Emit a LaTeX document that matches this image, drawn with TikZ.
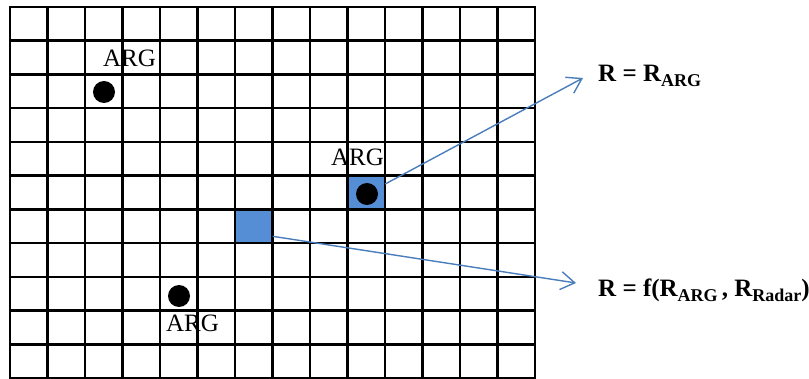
\documentclass[tikz,border=0pt]{standalone}
\usepackage{fontspec}
\setmainfont{Liberation Serif}
\usetikzlibrary{arrows.meta}
\definecolor{cellblue}{RGB}{85,142,213}
\definecolor{arrowblue}{RGB}{74,126,187}
\newcommand{\subtxt}[1]{\raisebox{-4.5pt}{\fontsize{18}{20}\selectfont #1}}
\tikzset{
  gridline/.style={line width=2.6pt, black, line cap=rect},
  bluecell/.style={fill=cellblue, draw=none, minimum width=37.5pt, minimum height=33.7pt, inner sep=0pt},
  blackdot/.style={circle, fill=black, minimum size=22pt, inner sep=0pt},
  arglabel/.style={font=\fontsize{25}{30}\selectfont, inner sep=0pt, anchor=base},
  formula/.style={font=\bfseries\fontsize{25}{30}\selectfont, inner sep=0pt, anchor=base west},
  link/.style={draw=arrowblue, line width=1.4pt, -{Straight Barb[length=14pt,width=18pt]}}
}
\begin{document}
\begin{tikzpicture}[x=1pt,y=-1pt]
  \useasboundingbox (0,0) rectangle (809,379);
  % blue cells
  \node[bluecell] (cellA) at (366.25,192.5) {};
  \node[bluecell] (cellB) at (253.75,226.3) {};
  % grid
  \foreach \i in {0,...,14} {
    \draw[gridline] (10+37.5*\i,7) -- (10+37.5*\i,377.8);
  }
  \foreach \j in {0,...,11} {
    \draw[gridline] (10,7+33.73*\j) -- (535,7+33.73*\j);
  }
  % dots
  \node[blackdot] (dot1) at (104,92) {};
  \node[blackdot] (dot2) at (367,194) {};
  \node[blackdot] (dot3) at (179,296) {};
  % ARG labels
  \node[arglabel] (arg1) at (129.5,67) {ARG};
  \node[arglabel] (arg2) at (357.5,166) {ARG};
  \node[arglabel] (arg3) at (192.5,332) {ARG};
  % formulas
  \node[formula] (lab1) at (598,82) {R = R\subtxt{ARG}};
  \node[formula] (lab2) at (598,297) {R = f(R\subtxt{ARG}\,, R\subtxt{Radar})};
  \coordinate (t1) at (583,78);
  \coordinate (t2) at (576,283);
  % arrows
  \draw[link] ([yshift=8.5pt]cellA.east) -- (t1);
  \draw[link] ([yshift=-10pt]cellB.east) -- (t2);
\end{tikzpicture}
\end{document}
